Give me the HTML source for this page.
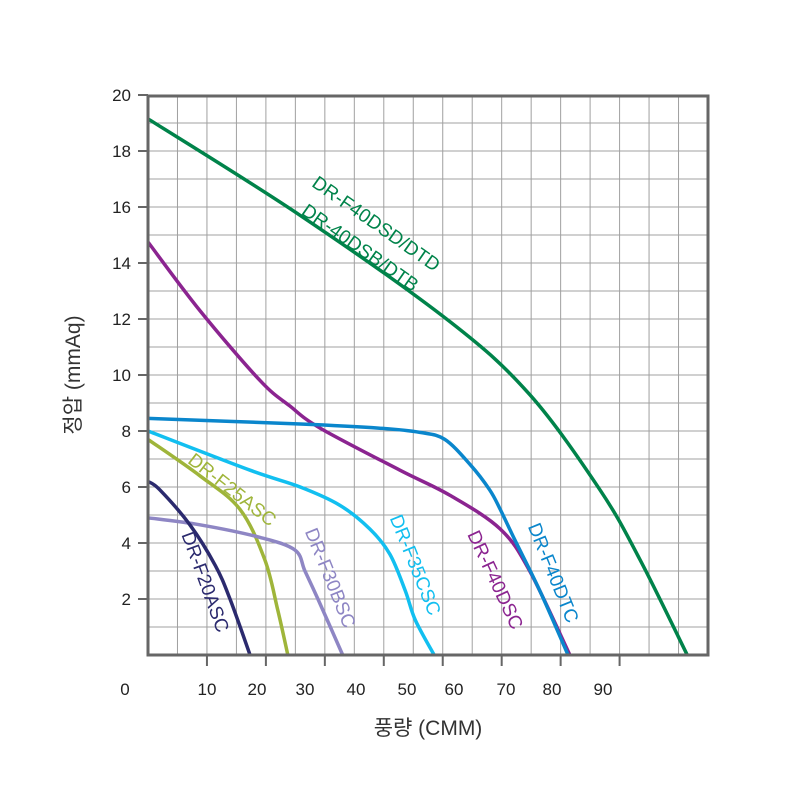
<!DOCTYPE html>
<html><head><meta charset="utf-8"><style>
html,body{margin:0;padding:0;background:#fff;}
svg text{font-family:"Liberation Sans","Noto Sans CJK KR",sans-serif;}
</style></head><body>
<svg id="chart" width="800" height="800" viewBox="0 0 800 800" xmlns="http://www.w3.org/2000/svg">
<g id="grid"></g>
<g id="series"></g>
<g id="labels"></g>
<rect x="148" y="96" width="560" height="559" fill="none" stroke="#666" stroke-width="3"/>
<g id="axes"></g>
<text x="0" y="0" font-size="21" fill="#333" text-anchor="middle" transform="translate(80,375) rotate(-90)">정압 (mmAq)</text>
<text x="428" y="735" font-size="21" fill="#333" text-anchor="middle">풍량 (CMM)</text>
</svg>
<script>
const yTicks = [2,4,6,8,10,12,14,16,18,20];
const xTickLabels = ["0","10","20","30","40","50","60","70","80","90"];
const xLabelPos = [125,207,257,305,356,407,454,506,552,603];
const seriesNames = ["DR-F40DSD/DTD","DR-F40DSC","DR-F40DTC","DR-F35CSC","DR-F25ASC","DR-F30BSC","DR-F20ASC"];
const greenX = [0,25.8,51.2,64.7,76.6,83.4,91.4];
const greenY = [19.15,15.7,11.9,9.3,5.9,3.4,0];
const purpleX = [0,8.8,19,24,29.2,42.7,51.2,59.7,64.7,71.5];
const purpleY = [14.75,12.3,9.8,8.9,8.1,6.6,5.7,4.5,3.0,0];
const blueX = [0,25.8,39.3,46.1,50.3,54.6,57.9,59.7,62.2,66.4,71.2];
const blueY = [8.45,8.25,8.1,7.95,7.7,6.8,5.9,5.2,4.1,2.3,0];
const cyanX = [0,17.3,25.8,32.5,37.6,41,43.6,45.3,48.5];
const cyanY = [8.0,6.6,6.0,5.35,4.5,3.6,2.3,1.25,0];
const oliveX = [0,8.8,15.6,19.8,22,23.7];
const oliveY = [7.7,6.4,5.2,3.4,1.6,0];
const lavX = [0,8.8,19,24.9,26.6,28.8,33];
const lavY = [4.9,4.65,4.2,3.75,3.0,2.0,0];
const navyX = [0,2,7.1,11.4,13.9,17.3];
const navyY = [6.2,5.9,4.65,3.2,2.0,0];

const NS="http://www.w3.org/2000/svg";
const X0=148, X1=708, Y0=655, Y1=95;
function sx(v){return X0 + v*5.9;}
function sy(v){return Y0 - v*(Y0-Y1)/20;}
function mk(tag,attrs,parent){const e=document.createElementNS(NS,tag);for(const k in attrs)e.setAttribute(k,attrs[k]);parent.appendChild(e);return e;}
const grid=document.getElementById('grid'), axes=document.getElementById('axes'), ser=document.getElementById('series'), lab=document.getElementById('labels');
for(let i=1;i<19;i++){const x=X0+i*560/19;
 const l=mk('line',{x1:x,y1:Y1,x2:x,y2:Y0,stroke:'#a0a0a0','stroke-width':1},grid);
 
 }
for(let i=1;i<20;i++){const y=Y0-i*28;
 const l=mk('line',{x1:X0,y1:y,x2:X1,y2:y,stroke:'#a0a0a0','stroke-width':1},grid);
 
 }
yTicks.forEach(v=>{const y=sy(v);
 const t=mk('line',{x1:138,y1:y,x2:148,y2:y,stroke:'#666','stroke-width':2},axes);
 
 
 const tx=mk('text',{x:131,y:y+6,'font-size':17,fill:'#222','text-anchor':'end'},axes);
 tx.textContent=v;
 
 });
for(let i=1;i<9;i++){const x=X0+i*2*560/19;
 const t=mk('line',{x1:x,y1:655,x2:x,y2:666,stroke:'#666','stroke-width':2},axes);
 
 }
xTickLabels.forEach((s,i)=>{
 const tx=mk('text',{x:xLabelPos[i],y:695,'font-size':17,fill:'#222','text-anchor':'middle'},axes);
 tx.textContent=s;
 
 });
function pathFor(xs,ys){const p=xs.map((x,i)=>[sx(x),sy(ys[i])]);
 let d='M'+p[0][0]+','+p[0][1];
 for(let i=0;i<p.length-1;i++){const a=p[i-1]||p[i],b=p[i],c=p[i+1],e=p[i+2]||c;
  const c1=[b[0]+(c[0]-a[0])/6,b[1]+(c[1]-a[1])/6],c2=[c[0]-(e[0]-b[0])/6,c[1]-(e[1]-b[1])/6];
  d+=' C'+c1+' '+c2+' '+c;}
 return d;}
const defs=[[greenX,greenY,'#00834a','series-dr-f40dsd'],[purpleX,purpleY,'#8b2490','series-dr-f40dsc'],[blueX,blueY,'#0a86cc','series-dr-f40dtc'],[cyanX,cyanY,'#12bff0','series-dr-f35csc'],[oliveX,oliveY,'#9fb53a','series-dr-f25asc'],[lavX,lavY,'#8e86c4','series-dr-f30bsc'],[navyX,navyY,'#2b2a6e','series-dr-f20asc']];
defs.forEach(s=>{const p=mk('path',{d:pathFor(s[0],s[1]),fill:'none',stroke:s[2],'stroke-width':3.5,'stroke-linejoin':'round'},ser);
 
 });
const labs=[["DR-F40DSD/DTD",376,224,35,'#00834a'],["DR-40DSB/DTB",360,248,35,'#00834a'],["DR-F25ASC",232,490,38,'#9fb53a'],["DR-F20ASC",205,582,70,'#2b2a6e'],["DR-F30BSC",330,578,68,'#8e86c4'],["DR-F35CSC",415,565,68,'#12bff0'],["DR-F40DSC",495,580,65,'#8b2490'],["DR-F40DTC",553,573,68,'#0a86cc']];
labs.forEach(l=>{const t=mk('text',{x:0,y:6,'font-size':19,fill:l[4],'text-anchor':'middle',transform:'translate('+l[1]+','+l[2]+') rotate('+l[3]+')'},lab);
 t.textContent=l[0];
 
 });
</script>
</body></html>
